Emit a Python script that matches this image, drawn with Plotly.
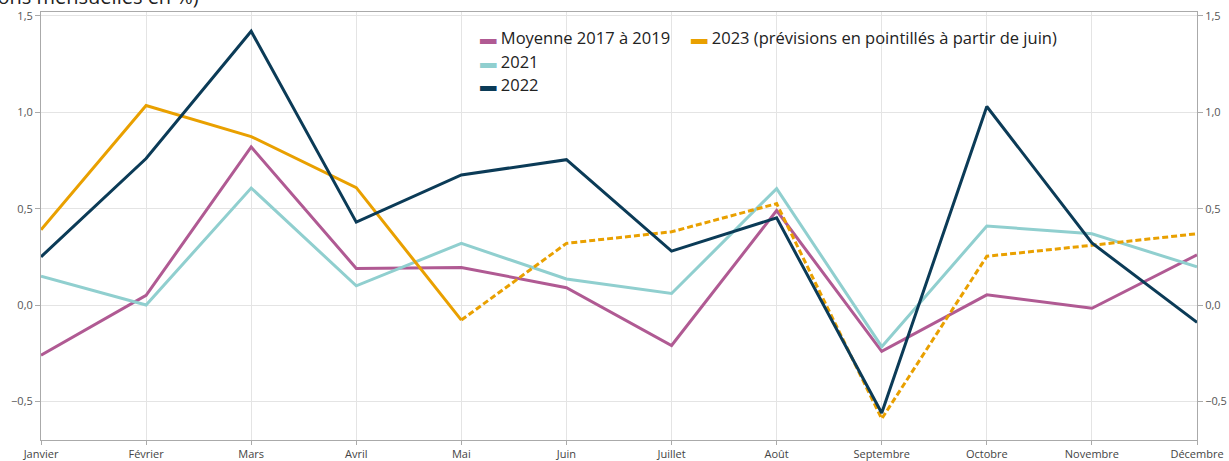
import plotly.graph_objects as go

months = ["Janvier", "Février", "Mars", "Avril", "Mai", "Juin", "Juillet",
          "Août", "Septembre", "Octobre", "Novembre", "Décembre"]

moyenne_2017_2019 = [-0.26, 0.05, 0.82, 0.19, 0.195, 0.09, -0.21, 0.49, -0.24, 0.053, -0.017, 0.26]
y2021 = [0.15, 0.0, 0.607, 0.10, 0.32, 0.135, 0.06, 0.604, -0.216, 0.41, 0.37, 0.198]
y2022 = [0.25, 0.76, 1.42, 0.43, 0.675, 0.754, 0.28, 0.452, -0.56, 1.03, 0.322, -0.09]
y2023_real = [0.39, 1.035, 0.874, 0.609, -0.078]          # Janvier -> Mai
y2023_prev = [-0.078, 0.32, 0.38, 0.526, -0.59, 0.253, 0.31, 0.37]  # Mai -> Décembre

tick_vals = [-0.5, 0.0, 0.5, 1.0, 1.5]

PINK = "#b05a93"
TEAL = "#90cfcf"
NAVY = "#0b3b57"
ORANGE = "#e9a000"

fig = go.Figure()
fig.add_trace(go.Scatter(x=months, y=moyenne_2017_2019, mode="lines",
                         line=dict(color=PINK, width=3), name="Moyenne 2017 à 2019"))
fig.add_trace(go.Scatter(x=months, y=y2021, mode="lines",
                         line=dict(color=TEAL, width=3), name="2021"))
fig.add_trace(go.Scatter(x=months[:5], y=y2023_real, mode="lines",
                         line=dict(color=ORANGE, width=3), name="2023"))
fig.add_trace(go.Scatter(x=months[4:], y=y2023_prev, mode="lines",
                         line=dict(color=ORANGE, width=3, dash="6px,3px"), name="2023 prév."))
fig.add_trace(go.Scatter(x=months, y=y2022, mode="lines",
                         line=dict(color=NAVY, width=3), name="2022"))
# invisible trace to carry the right axis
fig.add_trace(go.Scatter(x=months, y=y2022, mode="lines", yaxis="y2",
                         line=dict(color="rgba(0,0,0,0)", width=0), hoverinfo="skip"))

yr = [-0.7, 1.52]
axis_common = dict(range=yr, tickvals=tick_vals, tickformat=".1f", automargin=False,
                   showgrid=True, gridcolor="#e4e4e4", gridwidth=1,
                   zeroline=False, ticks="outside", ticklen=5, tickcolor="#aaaaaa",
                   showline=True, linecolor="#aaaaaa", linewidth=1,
                   tickfont=dict(family="Open Sans", size=11, color="#555555"))

fig.update_layout(
    width=1229, height=461,
    margin=dict(l=41, r=32, t=12, b=21, autoexpand=False),
    paper_bgcolor="white", plot_bgcolor="white",
    showlegend=False,
    separators=", ",
    xaxis=dict(type="category", range=[0, 11], showgrid=True, gridcolor="#e4e4e4",
               automargin=False,
               ticks="outside", ticklen=4, tickcolor="#aaaaaa",
               showline=True, linecolor="#aaaaaa", mirror=True,
               tickfont=dict(family="Open Sans", size=11, color="#444444")),
    yaxis=dict(side="left", **axis_common),
    yaxis2=dict(side="right", overlaying="y", matches="y", **axis_common),
)

# Title at the top-left (partly outside the page, as in the reference)
fig.add_annotation(text="(variations mensuelles en %)", xref="paper", yref="paper",
                   x=(201 - 41) / 1156, y=(440 + 3) / 428, xanchor="right", yanchor="middle",
                   showarrow=False, font=dict(family="Open Sans", size=20, color="#222222"))

# Legend built from annotations
legend_items = [
    ("Moyenne 2017 à 2019", PINK, 478, 38),
    ("2023 (prévisions en pointillés à partir de juin)", ORANGE, 689, 38),
    ("2021", TEAL, 478, 61),
    ("2022", NAVY, 478, 84),
]
for label, color, px, py in legend_items:
    fig.add_annotation(
        text=f'<span style="color:{color}">▬</span> {label}',
        xref="paper", yref="paper",
        x=(px - 41) / 1156, y=(440 - py) / 428,
        xanchor="left", yanchor="middle", showarrow=False,
        font=dict(family="Open Sans", size=16.5, color="#222222"))

fig.write_html("out.html", config={"displayModeBar": False},
               post_script="document.body.style.margin='0';document.body.style.overflow='hidden';")
